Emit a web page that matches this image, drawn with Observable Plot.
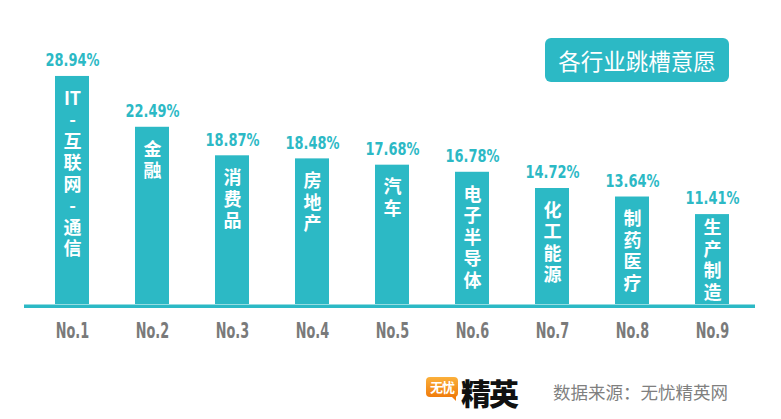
<!DOCTYPE html>
<html>
<head>
<meta charset="utf-8">
<script src="https://cdn.jsdelivr.net/npm/d3@7"></script>
<script src="https://cdn.jsdelivr.net/npm/@observablehq/plot@0.6"></script>
<style>
  html, body { margin: 0; padding: 0; background: #fff; }
  #wrap { position: relative; width: 781px; height: 419px; overflow: hidden; font-family: "Noto Sans CJK SC", sans-serif; }
  #title { position: absolute; left: 545px; top: 38px; width: 184px; height: 44px; background: #2cb9c5; border-radius: 6px;
           color: #fff; font-size: 22.5px; line-height: 44px; text-align: center; }
  #logo { position: absolute; left: 426px; top: 376px; height: 34px; }
  #logo .box { position: absolute; left: 0; top: 1px; width: 32px; height: 20px; border-radius: 4px;
               background: linear-gradient(#fbb03b, #f07c0c); color: #fff; font-size: 13px; font-weight: bold;
               line-height: 20px; text-align: center; letter-spacing: -1px; }
  #logo .tail { position: absolute; left: 24px; top: 19px; width: 0; height: 0; border-left: 6px solid transparent; border-top: 6px solid #f07c0c; }
  #logo .big { position: absolute; left: 35px; top: -6px; font-size: 30px; font-weight: 900; color: #111; letter-spacing: -2px; white-space: nowrap; }
  #source { position: absolute; left: 553px; top: 379px; font-size: 17.5px; color: #7f7f7f; white-space: nowrap; }
  .vlab text, .rlab text { font-stretch: condensed; }
</style>
</head>
<body>
<div id="wrap">
  <div id="chart"></div>
  <div id="title">各行业跳槽意愿</div>
  <div id="logo"><div class="box">无忧</div><div class="tail"></div><div class="big">精英</div></div>
  <div id="source">数据来源：无忧精英网</div>
</div>
<script>
const ranks = ["No.1", "No.2", "No.3", "No.4", "No.5", "No.6", "No.7", "No.8", "No.9"];
const industries = ["IT-互联网-通信", "金融", "消费品", "房地产", "汽车", "电子半导体", "化工能源", "制药医疗", "生产制造"];
const values = [28.94, 22.49, 18.87, 18.48, 17.68, 16.78, 14.72, 13.64, 11.41];

const teal = "#2cb9c5";
const data = ranks.map((r, i) => ({rank: r, industry: industries[i], value: values[i]}));
const splitLines = s => s.match(/[A-Za-z]+|./g);

const y0 = 304, yMax = 30, pxPerUnit = 7.88;
const lineStep = 21.5;
// inner label: 13px below bar top, or vertically centred when the bar is too short
const innerY = d => {
  const n = splitLines(d.industry).length;
  const h = d.value * pxPerUnit;
  const ink = (n - 1) * lineStep + 17;
  const off = Math.min(13, (h - ink) / 2);
  return d.value - off / pxPerUnit;
};
const narrow = "'DejaVu Sans Condensed', 'DejaVu Sans', sans-serif";

const chart = Plot.plot({
  width: 781,
  height: 419,
  marginLeft: 24,
  marginRight: 26,
  marginTop: 0,
  marginBottom: 0,
  x: {type: "band", domain: ranks, range: [12.75, 771.25], paddingInner: 0.578, paddingOuter: 0.5, axis: null},
  y: {domain: [0, yMax], range: [y0, y0 - yMax * pxPerUnit], axis: null},
  marks: [
    Plot.barY(data, {x: "rank", y: "value", fill: teal}),
    Plot.ruleY([0], {stroke: teal, strokeWidth: 3.5, dy: 1.75}),
    Plot.text(data, {x: "rank", y: "value", text: d => d.value.toFixed(2) + "%", dy: -16, className: "vlab",
      fill: teal, fontSize: 18, fontWeight: "bold", fontFamily: narrow}),
    Plot.text(data, {x: "rank", y: innerY, text: d => splitLines(d.industry).join("\n"), lineAnchor: "top", lineHeight: lineStep / 18,
      fill: "#fff", fontSize: 18, fontWeight: "bold", fontFamily: "'Noto Sans CJK SC', sans-serif"}),
    Plot.text(data, {x: "rank", y: () => 0, text: "rank", dy: 27, className: "rlab",
      fill: "#7a7a7a", fontSize: 21, fontWeight: "bold", fontFamily: narrow})
  ]
});
document.getElementById("chart").appendChild(chart);
// horizontal compression to mimic the condensed display face
d3.select(chart).selectAll(".vlab text").attr("transform", function() { return (this.getAttribute("transform") || "") + " scale(0.8,1)"; });
d3.select(chart).selectAll(".rlab text").attr("transform", function() { return (this.getAttribute("transform") || "") + " scale(0.68,1)"; });
</script>
</body>
</html>
